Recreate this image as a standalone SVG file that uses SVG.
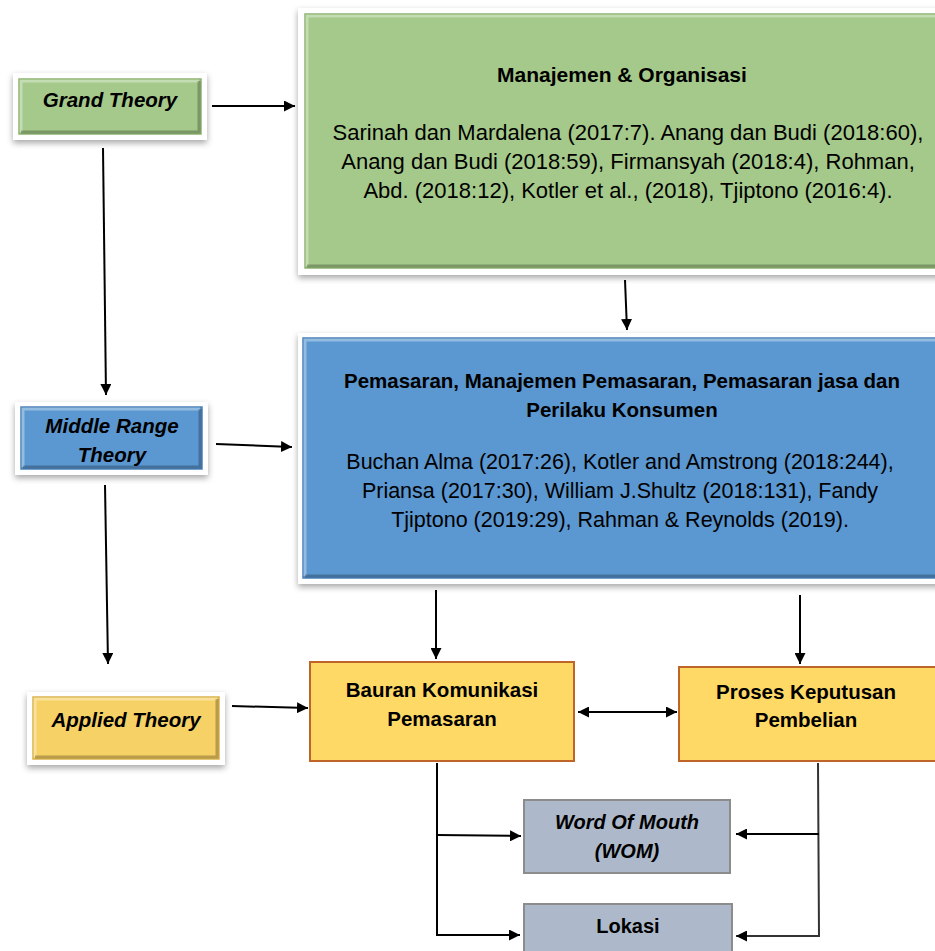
<svg xmlns="http://www.w3.org/2000/svg" width="935" height="951" viewBox="0 0 935 951">
<defs>
<style>
.t{font-family:"Liberation Sans",Arial,sans-serif;fill:#000;text-anchor:middle}
.b{font-weight:bold}
.i{font-style:italic}
.frame{fill:#fff;filter:url(#sh)}
.grn{fill:#A5C98A;stroke:#8DB36F;stroke-width:1.5}
.blu{fill:#5B97D0;stroke:#4A80B8;stroke-width:1.5}
.ylw{fill:#F6D166;stroke:#D9B24A;stroke-width:1.5}
.org{fill:#FFD966;stroke:#C0652A;stroke-width:2}
.gry{fill:#ADB9CA;stroke:#8C8C8C;stroke-width:2}
.hl{stroke:#fff;stroke-opacity:0.35;stroke-width:3;fill:none}
.dk{stroke:#000;stroke-opacity:0.25;stroke-width:3;fill:none}
.c{stroke:#000;stroke-width:2;fill:none}
</style>
<filter id="sh" x="-10%" y="-10%" width="120%" height="130%">
<feDropShadow dx="0" dy="3" stdDeviation="3" flood-color="#000" flood-opacity="0.35"/>
</filter>
<marker id="a" viewBox="0 0 10 10" refX="10" refY="5" markerWidth="11" markerHeight="11" markerUnits="userSpaceOnUse" orient="auto-start-reverse">
<path d="M0,0 L10,5 L0,10 z" fill="#000"/>
</marker>
</defs>

<g id="grand-theory">
<rect class="frame" x="13" y="73" width="194" height="67"/>
<rect class="grn" x="19" y="79" width="182" height="55"/>
<path class="hl" d="M21,132 V81 H199"/>
<path class="dk" d="M21,132 H199 V81"/>
<text class="t b i" x="110" y="107" font-size="20.5">Grand Theory</text>
</g>

<g id="manajemen">
<rect class="frame" x="298" y="8" width="650" height="267"/>
<rect class="grn" x="305" y="14" width="640" height="254"/>
<path class="hl" d="M307,266 V16 H943"/>
<path class="dk" d="M307,266 H943"/>
<text class="t b" x="622" y="82" font-size="21">Manajemen &amp; Organisasi</text>
<text class="t" x="628" y="140" font-size="22">Sarinah dan Mardalena (2017:7). Anang dan Budi (2018:60),</text>
<text class="t" x="628" y="169" font-size="22">Anang dan Budi (2018:59), Firmansyah (2018:4), Rohman,</text>
<text class="t" x="628" y="198" font-size="22">Abd. (2018:12), Kotler et al., (2018), Tjiptono (2016:4).</text>
</g>

<g id="middle-range-theory">
<rect class="frame" x="15" y="402" width="193" height="73"/>
<rect class="blu" x="21" y="407" width="181" height="62"/>
<path class="hl" d="M23,467 V409 H200"/>
<path class="dk" d="M23,467 H200 V409"/>
<text class="t b i" x="112" y="433" font-size="20.5">Middle Range</text>
<text class="t b i" x="112" y="462" font-size="20.5">Theory</text>
</g>

<g id="pemasaran">
<rect class="frame" x="298" y="333" width="650" height="251"/>
<rect class="blu" x="303" y="338" width="640" height="240"/>
<path class="hl" d="M305,576 V340 H943"/>
<path class="dk" d="M305,576 H943"/>
<text class="t b" x="622" y="388" font-size="20.5">Pemasaran, Manajemen Pemasaran, Pemasaran jasa dan</text>
<text class="t b" x="622" y="417" font-size="20.5">Perilaku Konsumen</text>
<text class="t" x="620" y="469" font-size="21.5">Buchan Alma (2017:26), Kotler and Amstrong (2018:244),</text>
<text class="t" x="620" y="498" font-size="21.5">Priansa (2017:30), William J.Shultz (2018:131), Fandy</text>
<text class="t" x="620" y="527" font-size="21.5">Tjiptono (2019:29), Rahman &amp; Reynolds (2019).</text>
</g>

<g id="applied-theory">
<rect class="frame" x="27" y="692" width="198" height="73"/>
<rect class="ylw" x="33" y="697" width="186" height="62"/>
<path class="hl" d="M35,757 V699 H217"/>
<path class="dk" d="M35,757 H217 V699"/>
<text class="t b i" x="126" y="727" font-size="20.5">Applied Theory</text>
</g>

<g id="bauran">
<rect class="org" x="310" y="662" width="264" height="99"/>
<text class="t b" x="442" y="697" font-size="20.5">Bauran Komunikasi</text>
<text class="t b" x="442" y="726" font-size="20.5">Pemasaran</text>
</g>

<g id="proses">
<rect class="org" x="679" y="667" width="262" height="94"/>
<text class="t b" x="806" y="699" font-size="20.5">Proses Keputusan</text>
<text class="t b" x="806" y="727" font-size="20.5">Pembelian</text>
</g>

<g id="wom">
<rect class="gry" x="524" y="800" width="206" height="73"/>
<text class="t b i" x="627" y="829" font-size="20">Word Of Mouth</text>
<text class="t b i" x="627" y="858" font-size="20">(WOM)</text>
</g>

<g id="lokasi">
<rect class="gry" x="524" y="904" width="208" height="52"/>
<text class="t b" x="628" y="933" font-size="20">Lokasi</text>
</g>

<g id="connectors">
<line class="c" x1="212" y1="106" x2="295" y2="106" marker-end="url(#a)"/>
<line class="c" x1="103" y1="148" x2="106" y2="395" marker-end="url(#a)"/>
<line class="c" x1="625" y1="280" x2="627" y2="330" marker-end="url(#a)"/>
<line class="c" x1="216" y1="444" x2="292" y2="447" marker-end="url(#a)"/>
<line class="c" x1="105" y1="485" x2="108" y2="664" marker-end="url(#a)"/>
<line class="c" x1="232" y1="706" x2="308" y2="708" marker-end="url(#a)"/>
<line class="c" x1="436" y1="590" x2="436" y2="659" marker-end="url(#a)"/>
<line class="c" x1="800" y1="595" x2="800" y2="664" marker-end="url(#a)"/>
<line class="c" x1="578" y1="712" x2="677" y2="712" marker-start="url(#a)" marker-end="url(#a)"/>
<polyline class="c" points="437,763 437,935 520,935" marker-end="url(#a)"/>
<line class="c" x1="437" y1="835" x2="521" y2="836" marker-end="url(#a)"/>
<polyline class="c" points="818,763 819,936 736,936" marker-end="url(#a)" style="stroke:#333"/>
<line class="c" x1="819" y1="834" x2="736" y2="834" marker-end="url(#a)"/>
</g>
</svg>
